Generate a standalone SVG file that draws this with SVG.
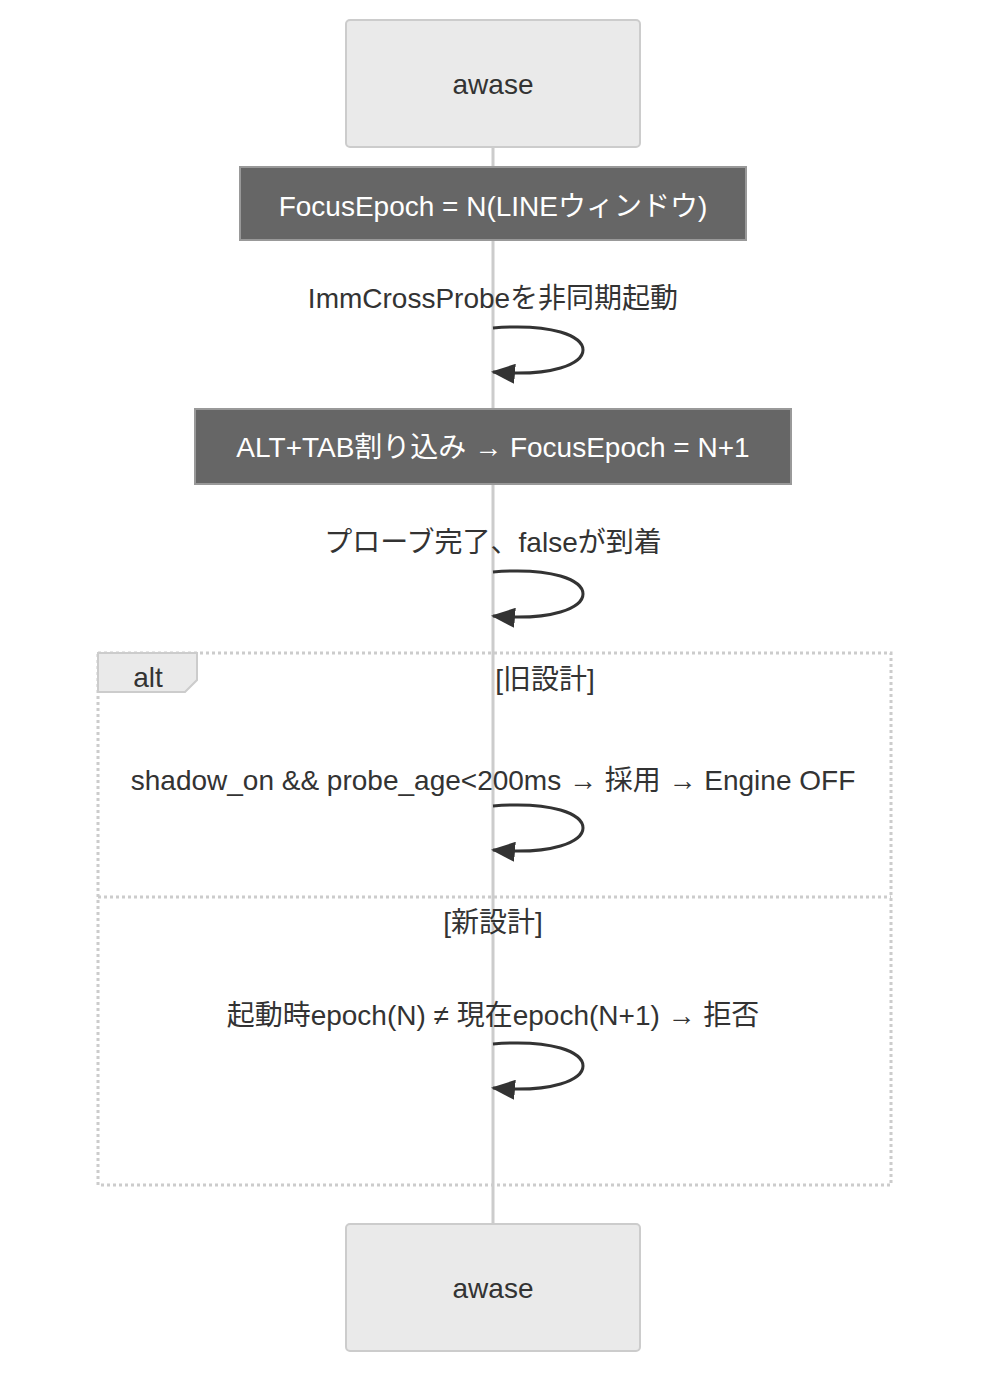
<svg xmlns="http://www.w3.org/2000/svg" width="1006" height="1396" viewBox="0 0 1006 1396">
<style>
text{font-family:"Liberation Sans","Noto Sans CJK JP",sans-serif;font-size:28px;text-anchor:middle;dominant-baseline:central;fill:#333}
.actor{fill:#eaeaea;stroke:#ccc;stroke-width:2}
.note{fill:#666;stroke:#999;stroke-width:2}
.nt{fill:#fff}
.loop{fill:none;stroke:#333;stroke-width:3;marker-end:url(#ah)}
.frame{fill:none;stroke:#ccc;stroke-width:3;stroke-dasharray:3 3}
</style>
<defs><marker id="ah" viewBox="0 0 12 10" refX="11" refY="5" markerWidth="8" markerHeight="7" orient="auto" markerUnits="userSpaceOnUse"><path d="M0,0L12,5L0,10z" fill="#333"/></marker>
<marker id="ah2" viewBox="0 0 12 10" refX="11" refY="5" markerWidth="24" markerHeight="20" orient="auto" markerUnits="userSpaceOnUse"><path d="M0,0L12,5L0,10z" fill="#333"/></marker></defs>
<rect width="1006" height="1396" fill="#fff"/>
<line x1="493" y1="147" x2="493" y2="1224" stroke="#ccc" stroke-width="3"/>
<g id="actor-top"><rect class="actor" x="346" y="20" width="294" height="127" rx="4"/><text x="493" y="84">awase</text></g>
<g id="actor-bottom"><rect class="actor" x="346" y="1224" width="294" height="127" rx="4"/><text x="493" y="1288">awase</text></g>
<g id="note1"><rect class="note" x="240" y="167" width="506" height="73"/><text class="nt" x="493" y="206">FocusEpoch = N(LINEウィンドウ)</text></g>
<g id="note2"><rect class="note" x="195" y="409" width="596" height="75"/><text class="nt" x="493" y="447">ALT+TAB割り込み → FocusEpoch = N+1</text></g>
<g id="alt"><rect class="frame" x="98" y="653" width="793" height="532"/>
<polygon points="98,653 197,653 197,680 185,692 98,692" fill="#eaeaea" stroke="#ccc" stroke-width="2"/>
<text x="148" y="677">alt</text><text x="545" y="679">[旧設計]</text>
<line class="frame" x1="98" y1="897" x2="891" y2="897"/>
<text x="493" y="922">[新設計]</text></g>
<g id="connectors">
<text x="493" y="298">ImmCrossProbeを非同期起動</text>
<path d="M493,328 C613,318 613,382 493,372" style="fill:none;stroke:#333;stroke-width:3" marker-end="url(#ah2)"/>
<text x="493" y="542">プローブ完了、falseが到着</text>
<path d="M493,572 C613,562 613,626 493,616" style="fill:none;stroke:#333;stroke-width:3" marker-end="url(#ah2)"/>
<text x="493" y="780">shadow_on &amp;&amp; probe_age&lt;200ms → 採用 → Engine OFF</text>
<path d="M493,806 C613,796 613,860 493,850" style="fill:none;stroke:#333;stroke-width:3" marker-end="url(#ah2)"/>
<text x="493" y="1015">起動時epoch(N) ≠ 現在epoch(N+1) → 拒否</text>
<path d="M493,1044 C613,1034 613,1098 493,1088" style="fill:none;stroke:#333;stroke-width:3" marker-end="url(#ah2)"/>
</g>
</svg>
